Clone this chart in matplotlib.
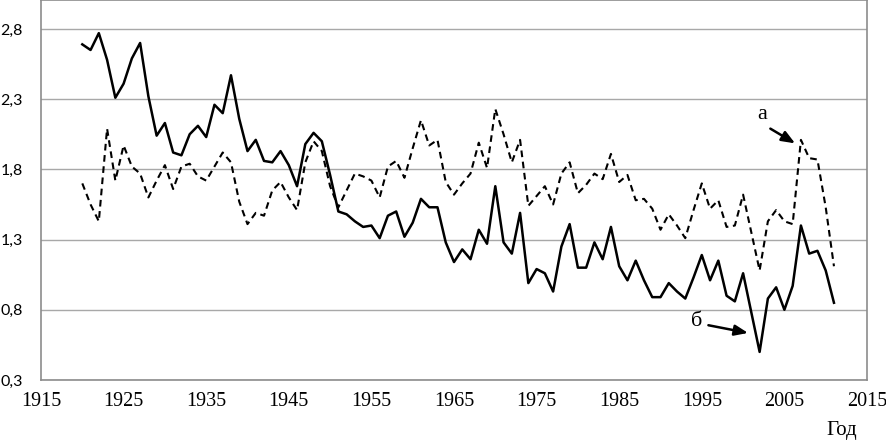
import matplotlib
matplotlib.use("Agg")
import matplotlib.pyplot as plt
from matplotlib.ticker import FuncFormatter

# years 1920..2011
years = list(range(1920, 2012))

# curve "б" (solid)
series_b = [
    2.69, 2.65, 2.77, 2.58, 2.31, 2.41, 2.59, 2.70, 2.32, 2.04,
    2.13, 1.92, 1.90, 2.05, 2.11, 2.03, 2.26, 2.20, 2.47, 2.16,
    1.93, 2.01, 1.86, 1.85, 1.93, 1.83, 1.68, 1.98, 2.06, 2.00,
    1.76, 1.50, 1.48, 1.43, 1.39, 1.40, 1.31, 1.47, 1.50, 1.32,
    1.42, 1.59, 1.53, 1.53, 1.28, 1.14, 1.23, 1.16, 1.37, 1.27,
    1.68, 1.28, 1.20, 1.49, 0.99, 1.09, 1.06, 0.93, 1.25, 1.41,
    1.10, 1.10, 1.28, 1.16, 1.39, 1.11, 1.01, 1.15, 1.01, 0.89,
    0.89, 0.99, 0.93, 0.88, 1.03, 1.19, 1.01, 1.15, 0.90, 0.86,
    1.06, 0.78, 0.50, 0.88, 0.96, 0.80, 0.97, 1.40, 1.20, 1.22,
    1.08, 0.85,
]

# curve "а" (dashed)
series_a = [
    1.70, 1.55, 1.43, 2.09, 1.72, 1.97, 1.82, 1.77, 1.60, 1.72,
    1.83, 1.66, 1.82, 1.84, 1.75, 1.72, 1.82, 1.92, 1.85, 1.57,
    1.41, 1.49, 1.47, 1.65, 1.71, 1.60, 1.51, 1.85, 2.00, 1.93,
    1.68, 1.53, 1.65, 1.77, 1.75, 1.72, 1.60, 1.82, 1.86, 1.74,
    1.95, 2.15, 1.97, 2.01, 1.71, 1.62, 1.70, 1.77, 1.99, 1.81,
    2.23, 2.05, 1.85, 2.01, 1.54, 1.61, 1.68, 1.55, 1.77, 1.85,
    1.63, 1.69, 1.77, 1.73, 1.91, 1.71, 1.76, 1.58, 1.59, 1.52,
    1.37, 1.48, 1.40, 1.31, 1.51, 1.70, 1.52, 1.58, 1.39, 1.40,
    1.62, 1.35, 1.08, 1.43, 1.51, 1.43, 1.41, 2.01, 1.88, 1.87,
    1.53, 1.11,
]

x_ticks = list(range(1915, 2016, 10))
y_ticks = [0.3, 0.8, 1.3, 1.8, 2.3, 2.8]

W, H = 886, 442
fig = plt.figure(figsize=(W / 100, H / 100), dpi=100)
ax = fig.add_axes([41 / W, 1 - 380 / H, (867 - 41) / W, 380 / H])

ax.plot(years, series_b, color="black", linewidth=1.8)
ax.plot(years, series_a, color="black", linewidth=1.5, dashes=(3.2, 2.2))

ax.set_xlim(1915, 2015)
ax.set_ylim(0.3, 3.006)
ax.set_xticks(x_ticks)
ax.set_yticks(y_ticks)
ax.yaxis.set_major_formatter(FuncFormatter(lambda v, p: f"{v:.1f}".replace(".", ",")))

ax.grid(axis="y", color="#a8a8a8", linewidth=1.0)
ax.set_axisbelow(True)
for s in ax.spines.values():
    s.set_color("#8c8c8c")
    s.set_linewidth(1.2)

ax.tick_params(length=0)
ax.tick_params(axis="x", pad=9)
ax.tick_params(axis="y", pad=13)
for lbl in ax.get_xticklabels():
    lbl.set_fontfamily("Liberation Serif")
    lbl.set_fontsize(14.5)
for lbl in ax.get_yticklabels():
    lbl.set_fontfamily("Lato")
    lbl.set_fontsize(11.5)

fig.text(842 / W, 1 - 431 / H, "Год", fontfamily="Liberation Serif",
         fontsize=15, ha="center", va="center")

# annotations: label text and separate arrows
arrow = dict(arrowstyle="-|>,head_length=0.8,head_width=0.32",
             color="black", lw=1.8, shrinkA=0, shrinkB=0)
ax.text(2002.3, 2.19, "а", fontfamily="Liberation Serif", fontsize=16,
        ha="center", va="center")
ax.annotate("", xy=(2006.3, 1.985), xytext=(2003.3, 2.09), arrowprops=arrow)
ax.text(1994.4, 0.715, "б", fontfamily="Liberation Serif", fontsize=16,
        ha="center", va="center")
ax.annotate("", xy=(2000.6, 0.635), xytext=(1995.8, 0.69), arrowprops=arrow)

fig.savefig("out.png", dpi=100)
